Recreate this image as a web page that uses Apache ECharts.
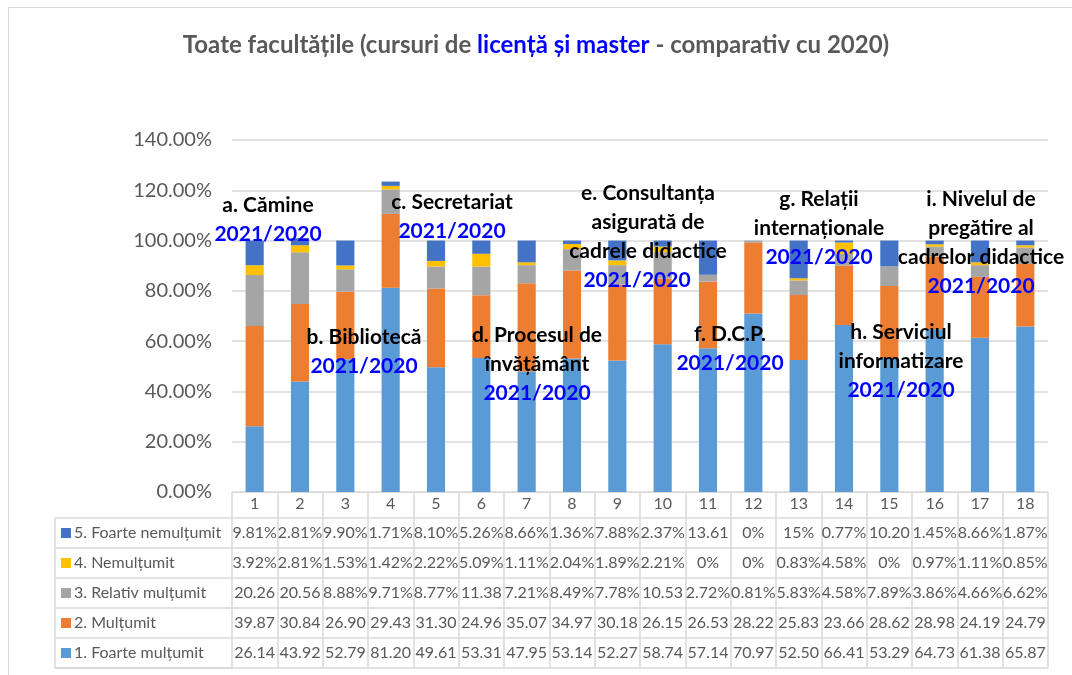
<!DOCTYPE html>
<html lang="ro" style="height: 100%">
<head>
<meta charset="utf-8">
<title>Toate facultățile</title>
</head>
<body style="height: 100%; margin: 0; background: #fff">
<div style="position: absolute; left: 8px; top: 7px; width: 1100px; height: 700px; border: 1.5px solid #d9d9d9; pointer-events: none"></div>
<div id="container" style="position: absolute; left: 0; top: 0; width: 1072px; height: 675px"></div>
<script src="https://cdn.jsdelivr.net/npm/echarts@6/dist/echarts.min.js"></script>
<script>
// date citite din tabel (procente)
var categories = ['1','2','3','4','5','6','7','8','9','10','11','12','13','14','15','16','17','18'];
var seriesNames = ['1. Foarte mulțumit', '2. Mulțumit', '3. Relativ mulțumit', '4. Nemulțumit', '5. Foarte nemulțumit'];
var foarteMultumit = [26.14, 43.92, 52.79, 81.20, 49.61, 53.31, 47.95, 53.14, 52.27, 58.74, 57.14, 70.97, 52.50, 66.41, 53.29, 64.73, 61.38, 65.87];
var multumit = [39.87, 30.84, 26.90, 29.43, 31.30, 24.96, 35.07, 34.97, 30.18, 26.15, 26.53, 28.22, 25.83, 23.66, 28.62, 28.98, 24.19, 24.79];
var relativMultumit = [20.26, 20.56, 8.88, 9.71, 8.77, 11.38, 7.21, 8.49, 7.78, 10.53, 2.72, 0.81, 5.83, 4.58, 7.89, 3.86, 4.66, 6.62];
var nemultumit = [3.92, 2.81, 1.53, 1.42, 2.22, 5.09, 1.11, 2.04, 1.89, 2.21, 0, 0, 0.83, 4.58, 0, 0.97, 1.11, 0.85];
var foarteNemultumit = [9.81, 2.81, 9.90, 1.71, 8.10, 5.26, 8.66, 1.36, 7.88, 2.37, 13.61, 0, 15, 0.77, 10.20, 1.45, 8.66, 1.87];
var colors = ['#5B9BD5', '#ED7D31', '#A5A5A5', '#FFC000', '#4472C4'];
var allSeries = [foarteMultumit, multumit, relativMultumit, nemultumit, foarteNemultumit];

// casetele de text de pe grafic
var notes = [
  { x: 268, y: 205, lines: ['a. Cămine'] },
  { x: 364, y: 337, lines: ['b. Bibliotecă'] },
  { x: 452, y: 202, lines: ['c. Secretariat'] },
  { x: 537, y: 335, lines: ['d. Procesul de', 'învățământ'] },
  { x: 648, y: 193, lines: ['e. Consultanța', 'asigurată de', 'cadrele didactice'], shift: 22 },
  { x: 730, y: 334, lines: ['f. D.C.P.'] },
  { x: 819, y: 199, lines: ['g. Relații', 'internaționale'] },
  { x: 901, y: 332, lines: ['h. Serviciul', 'informatizare'] },
  { x: 981, y: 199, lines: ['i. Nivelul de', 'pregătire al', 'cadrelor didactice'] }
];

var FONT = 'Lato, "Open Sans", sans-serif';
var GRID_L = 232, GRID_R = 1048, BASE = 492;
var HEAD_H = 26, ROW_H = 30;
var LINE = '#d9d9d9';
var CELL_FS = 16;

function fmtCell(v) {
  var s = (v === Math.round(v)) ? v + '%' : v.toFixed(2) + '%';
  if (s.length > 5) s = s.slice(0, -1);   // Excel taie % cand nu incape
  return s;
}

var xAxes = [{
  type: 'category', data: categories, position: 'bottom', gridIndex: 0,
  axisLine: { lineStyle: { color: LINE, width: 1 } },
  axisTick: { show: true, length: HEAD_H + ROW_H * 5, lineStyle: { color: LINE, width: 1.5 } },
  axisLabel: { interval: 0, margin: 4, color: '#595959', fontSize: CELL_FS, fontFamily: FONT }
}];
// randurile tabelului, de sus in jos: 5,4,3,2,1
for (var r = 0; r < 5; r++) {
  (function (arr) {
    xAxes.push({
      type: 'category', data: categories, position: 'bottom', gridIndex: 0, offset: HEAD_H + ROW_H * r,
      axisLine: { lineStyle: { color: LINE, width: 1.5 } },
      axisTick: { show: false },
      axisLabel: {
        interval: 0, margin: 7, color: '#595959', fontSize: CELL_FS, fontFamily: FONT,
        formatter: function (val, idx) { return fmtCell(arr[idx]); }
      }
    });
  })(allSeries[4 - r]);
}
xAxes.push({
  type: 'category', data: categories, position: 'bottom', gridIndex: 0, offset: HEAD_H + ROW_H * 5,
  axisLine: { lineStyle: { color: LINE, width: 1.5 } },
  axisTick: { show: false }, axisLabel: { show: false }
});
// coloana din stanga a tabelului (grid 1)
xAxes.push({
  type: 'value', gridIndex: 1, min: 0, max: 1, position: 'bottom',
  axisLine: { show: true, lineStyle: { color: LINE, width: 1.5 } },
  axisTick: { show: false }, axisLabel: { show: false }, splitLine: { show: false }
});

var titles = [{
  left: 'center', top: 33, padding: 0,
  text: '{a|Toate facultățile (cursuri de }{b|licență și master}{a| - comparativ cu 2020)}',
  textStyle: { rich: {
    a: { color: '#595959', fontSize: 24, fontWeight: 'bold', fontFamily: FONT },
    b: { color: '#0000FF', fontSize: 24, fontWeight: 'bold', fontFamily: FONT } } }
}];
notes.forEach(function (n) {
  var txt = n.lines.map(function (t) { return '{k|' + t + '}'; }).join('\n') + '\n{y|2021/2020}';
  titles.push({
    left: n.x, top: n.y - 14.5, padding: 0, textAlign: 'center',
    text: txt,
    textStyle: { rich: {
      k: { color: '#000', fontSize: 21, fontWeight: 'bold', fontFamily: FONT, lineHeight: 29 },
      y: { color: '#0000FF', fontSize: 21, fontWeight: 'bold', fontFamily: FONT, lineHeight: 29,
        padding: [0, n.shift || 0, 0, 0] } } }
  });
});

var option = {
  animation: false,
  title: titles,
  legend: {
    orient: 'vertical', left: 61, top: BASE + HEAD_H, padding: 0, itemGap: 0,
    icon: 'rect', itemWidth: 10, itemHeight: 10, selectedMode: false,
    data: seriesNames.slice().reverse(),
    textStyle: { color: '#595959', fontSize: CELL_FS, fontFamily: FONT, lineHeight: ROW_H, padding: [0, 0, 0, -2] }
  },
  grid: [
    { left: GRID_L, right: 1072 - GRID_R, top: 140, bottom: 675 - BASE },
    { left: 55, width: GRID_L - 55, top: BASE + HEAD_H, height: ROW_H * 5 }
  ],
  xAxis: xAxes,
  yAxis: [{
    type: 'value', gridIndex: 0, min: 0, max: 140, interval: 20,
    axisLine: { show: false }, axisTick: { show: false },
    splitLine: { lineStyle: { color: LINE, width: 1.5 } },
    axisLabel: { color: '#595959', fontSize: 20, fontFamily: FONT, margin: 20,
      formatter: function (v) { return v.toFixed(2) + '%'; } }
  }, {
    type: 'category', gridIndex: 1, data: seriesNames,
    axisLine: { show: true, lineStyle: { color: LINE, width: 1.5 } },
    axisTick: { show: true, inside: true, length: GRID_L - 55, lineStyle: { color: LINE, width: 1.5 } },
    axisLabel: { show: false }, splitLine: { show: false }
  }],
  series: allSeries.map(function (arr, i) {
    return { name: seriesNames[i], type: 'bar', stack: 'total', xAxisIndex: 0, yAxisIndex: 0,
      barWidth: '40%', data: arr, itemStyle: { color: colors[i] } };
  })
};

var myChart = echarts.init(document.getElementById('container'));
myChart.setOption(option);
</script>
</body>
</html>
